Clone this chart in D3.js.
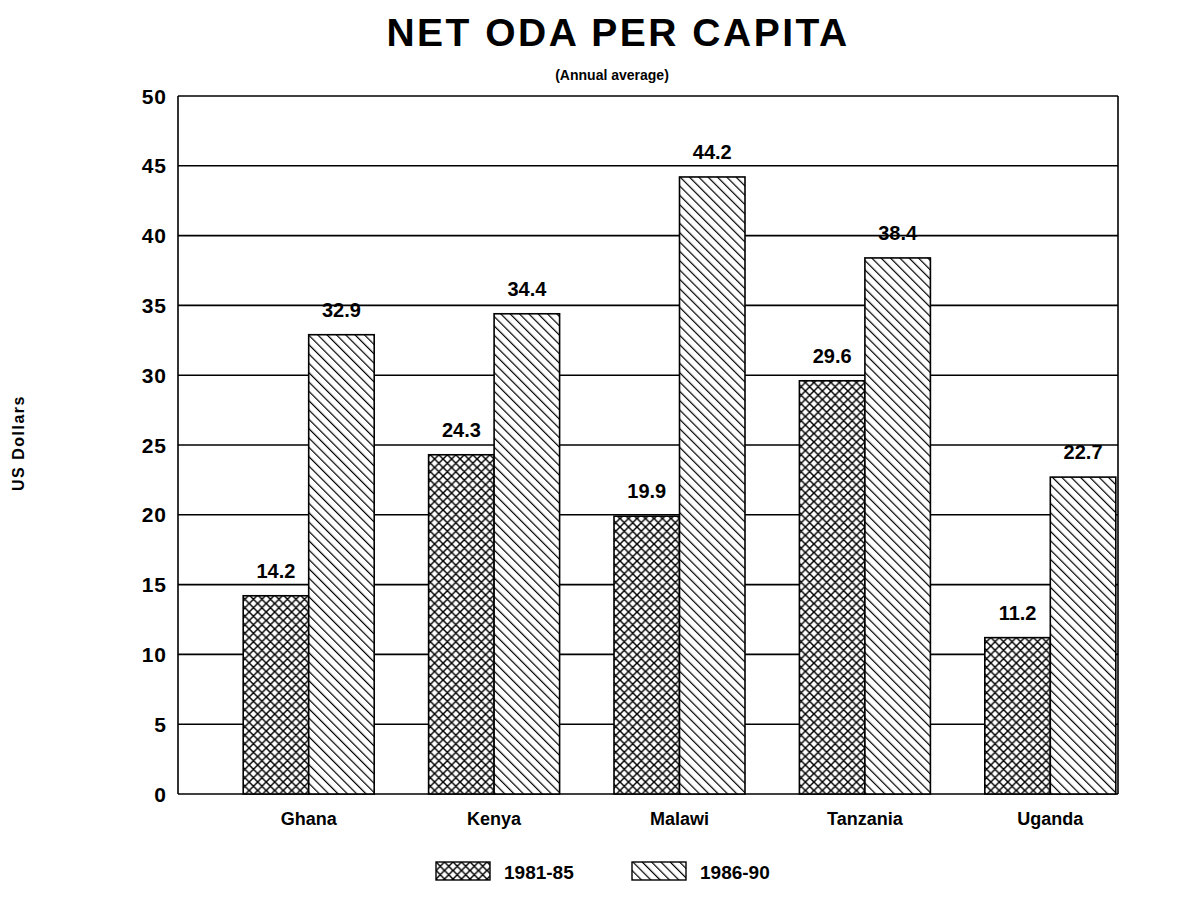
<!DOCTYPE html>
<html>
<head>
	<style>
		body {
			margin: 0;
			background-color: #ffffff;
		}
		svg text {
			font-family: "Liberation Sans", Arial, sans-serif;
			font-weight: bold;
			fill: #000;
		}
	</style>
	<script src="https://cdn.jsdelivr.net/npm/d3@7"></script>
</head>
<body>
	<div id="chart"></div>

	<script>
		// chart data
		var countries = ["Ghana", "Kenya", "Malawi", "Tanzania", "Uganda"];
		var periods = ["1981-85", "1986-90"];
		var oda8185 = [14.2, 24.3, 19.9, 29.6, 11.2];
		var oda8690 = [32.9, 34.4, 44.2, 38.4, 22.7];
		var yTicks = [0, 5, 10, 15, 20, 25, 30, 35, 40, 45, 50];

		var width = 1182, height = 912;
		var plot = { left: 178, right: 1118, top: 96, bottom: 794 };

		var svg = d3.select("#chart").append("svg")
			.attr("width", width)
			.attr("height", height);

		// hatch patterns
		var defs = svg.append("defs");

		var cross = defs.append("pattern")
			.attr("id", "cross")
			.attr("patternUnits", "userSpaceOnUse")
			.attr("width", 8.5)
			.attr("height", 8.5);
		cross.append("rect").attr("width", 8.5).attr("height", 8.5).attr("fill", "#fff");
		cross.append("path")
			.attr("d", "M0,0 L8.5,8.5 M-2,6.5 L2,10.5 M6.5,-2 L10.5,2 M8.5,0 L0,8.5 M-2,2 L2,-2 M6.5,10.5 L10.5,6.5")
			.attr("stroke", "#000")
			.attr("stroke-width", 1.5);

		var diag = defs.append("pattern")
			.attr("id", "diag")
			.attr("patternUnits", "userSpaceOnUse")
			.attr("width", 6.6)
			.attr("height", 10)
			.attr("patternTransform", "rotate(-45)");
		diag.append("rect").attr("width", 6.6).attr("height", 10).attr("fill", "#fff");
		diag.append("line")
			.attr("x1", 0.6).attr("y1", 0).attr("x2", 0.6).attr("y2", 10)
			.attr("stroke", "#000")
			.attr("stroke-width", 1.2);

		var fills = { "1981-85": "url(#cross)", "1986-90": "url(#diag)" };

		// scales
		var y = d3.scaleLinear().domain([0, 50]).range([plot.bottom, plot.top]);

		var x = d3.scaleBand()
			.domain(countries)
			.range([216, 1143])
			.padding(0);

		var xSub = d3.scaleBand()
			.domain(periods)
			.range([-65.5, 65.5]);

		// grid lines
		svg.append("g")
			.selectAll("line")
			.data(yTicks)
			.join("line")
			.attr("x1", plot.left)
			.attr("x2", plot.right)
			.attr("y1", function(d) { return y(d); })
			.attr("y2", function(d) { return y(d); })
			.attr("stroke", "#000")
			.attr("stroke-width", 1.6);

		// left and right frame
		svg.append("line")
			.attr("x1", plot.left).attr("x2", plot.left)
			.attr("y1", plot.top).attr("y2", plot.bottom)
			.attr("stroke", "#000").attr("stroke-width", 1.6);
		svg.append("line")
			.attr("x1", plot.right).attr("x2", plot.right)
			.attr("y1", plot.top).attr("y2", plot.bottom)
			.attr("stroke", "#000").attr("stroke-width", 1.6);

		// y tick labels
		svg.append("g")
			.selectAll("text")
			.data(yTicks)
			.join("text")
			.attr("x", 167)
			.attr("y", function(d) { return y(d) + 7.5; })
			.attr("text-anchor", "end")
			.style("font-size", "21px")
			.style("letter-spacing", "1px")
			.text(function(d) { return d; });

		// bars
		var rows = countries.map(function(c, i) {
			return { country: c, values: [
				{ period: periods[0], value: oda8185[i] },
				{ period: periods[1], value: oda8690[i] }
			] };
		});

		var groups = svg.append("g")
			.selectAll("g")
			.data(rows)
			.join("g")
			.attr("transform", function(d) { return "translate(" + (x(d.country) + x.bandwidth() / 2) + ",0)"; });

		groups.selectAll("rect")
			.data(function(d) { return d.values; })
			.join("rect")
			.attr("x", function(d) { return xSub(d.period); })
			.attr("width", xSub.bandwidth())
			.attr("y", function(d) { return y(d.value); })
			.attr("height", function(d) { return y(0) - y(d.value); })
			.attr("fill", function(d) { return fills[d.period]; })
			.attr("stroke", "#000")
			.attr("stroke-width", 1.6);

		// value labels
		groups.selectAll("text")
			.data(function(d) { return d.values; })
			.join("text")
			.attr("x", function(d) { return xSub(d.period) + xSub.bandwidth() / 2; })
			.attr("y", function(d) { return y(d.value) - 18; })
			.attr("text-anchor", "middle")
			.style("font-size", "20px")
			.text(function(d) { return d.value.toFixed(1); });

		// category labels
		svg.append("g")
			.selectAll("text")
			.data(countries)
			.join("text")
			.attr("x", function(d) { return x(d) + x.bandwidth() / 2; })
			.attr("y", 825)
			.attr("text-anchor", "middle")
			.style("font-size", "18px")
			.text(function(d) { return d; });

		// titles
		svg.append("text")
			.attr("x", 618)
			.attr("y", 46)
			.attr("text-anchor", "middle")
			.style("font-size", "39px")
			.style("letter-spacing", "2.5px")
			.text("NET ODA PER CAPITA");

		svg.append("text")
			.attr("x", 612)
			.attr("y", 80)
			.attr("text-anchor", "middle")
			.style("font-size", "14px")
			.text("(Annual average)");

		svg.append("text")
			.attr("transform", "translate(24,443) rotate(-90)")
			.attr("text-anchor", "middle")
			.style("font-size", "16px")
			.style("letter-spacing", "1.5px")
			.text("US Dollars");

		// legend
		var legendX = [436, 632];
		var legend = svg.append("g")
			.selectAll("g")
			.data(periods)
			.join("g")
			.attr("transform", function(d, i) { return "translate(" + legendX[i] + ",862)"; });

		legend.append("rect")
			.attr("width", 54)
			.attr("height", 18)
			.attr("fill", function(d) { return fills[d]; })
			.attr("stroke", "#000")
			.attr("stroke-width", 1.4);

		legend.append("text")
			.attr("x", 68)
			.attr("y", 17)
			.style("font-size", "19px")
			.text(function(d) { return d; });
	</script>
</body>
</html>
